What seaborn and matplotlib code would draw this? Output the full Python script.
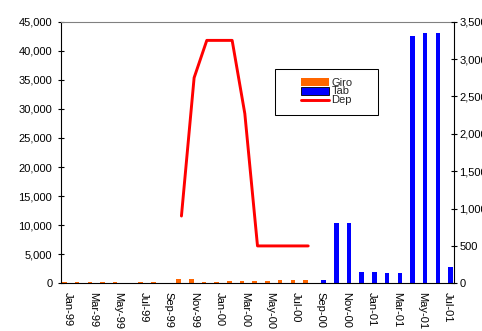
import numpy as np
import pandas as pd
import matplotlib
matplotlib.use("Agg")
import matplotlib.pyplot as plt
import seaborn as sns
from matplotlib.patches import Patch, Rectangle
from matplotlib.lines import Line2D
from matplotlib.ticker import FuncFormatter, MultipleLocator

nan = np.nan

# ---------------- data ----------------
months = ["Jan-99", "Feb-99", "Mar-99", "Apr-99", "May-99", "Jun-99", "Jul-99",
          "Aug-99", "Sep-99", "Oct-99", "Nov-99", "Dec-99",
          "Jan-00", "Feb-00", "Mar-00", "Apr-00", "May-00", "Jun-00", "Jul-00",
          "Aug-00", "Sep-00", "Oct-00", "Nov-00", "Dec-00",
          "Jan-01", "Feb-01", "Mar-01", "Apr-01", "May-01", "Jun-01", "Jul-01"]

giro = [300, 300, 250, 250, 250, nan, 250, 250, nan, 750, 800, 250,
        250, 450, 450, 450, 450, 550, 550, 550,
        nan, nan, nan, nan, nan, nan, nan, nan, nan, nan, nan]

tab = [nan] * 20 + [600, 10400, 10400, 2000, 2000, 1800, 1800,
                    42500, 43000, 43000, 2750]

dep = [nan] * 9 + [900, 2750, 3250, 3250, 3250, 2270, 500, 500, 500, 500, 500] + [nan] * 11

series_names = ["Giro", "Tab"]
colors = {"Giro": "#FF6600", "Tab": "#0000FF", "Dep": "#FF0000"}

bars = pd.DataFrame({
    "month": months * 2,
    "series": ["Giro"] * len(months) + ["Tab"] * len(months),
    "value": giro + tab,
}).dropna()

line_df = pd.DataFrame({"pos": np.arange(len(months)), "Dep": dep}).dropna()

# ---------------- style ----------------
sns.set_style("white")
plt.rcParams["font.family"] = ["Liberation Sans", "DejaVu Sans"]
plt.rcParams["font.size"] = 8

fig = plt.figure(figsize=(4.82, 3.31), dpi=100)
L, R, B, T = 61 / 482, 454 / 482, 1 - 283.3 / 331, 1 - 21.7 / 331
ax = fig.add_axes([L, B, R - L, T - B])

sns.barplot(data=bars, x="month", y="value", hue="series", order=months,
            hue_order=series_names, palette=colors, width=0.88, gap=0.2,
            dodge=True, saturation=1, linewidth=0, errorbar=None,
            legend=False, ax=ax)

for c in ax.containers:
    if c.get_label() == "Tab":
        for b in c:
            b.set_edgecolor("black")
            b.set_linewidth(0.6)

ax2 = ax.twinx()
sns.lineplot(data=line_df, x="pos", y="Dep", ax=ax2, color=colors["Dep"],
             linewidth=2.1, estimator=None, legend=False)

# ---------------- axes ----------------
ax.set_xlim(-0.5, len(months) - 0.5)
ax.set_ylim(0, 45000)
ax2.set_ylim(0, 3500)
ax.set_xlabel("")
ax.set_ylabel("")
ax2.set_xlabel("")
ax2.set_ylabel("")

fmt = FuncFormatter(lambda v, p: f"{v:,.0f}")
ax.yaxis.set_major_locator(MultipleLocator(5000))
ax.yaxis.set_major_formatter(fmt)
ax2.yaxis.set_major_locator(MultipleLocator(500))
ax2.yaxis.set_major_formatter(fmt)

ax.set_xticks(range(0, len(months), 2))
ax.set_xticklabels(months[::2], rotation=-90, ha="center", va="top")
ax.set_xticks(np.arange(-0.5, len(months), 1), minor=True)
ax.tick_params(axis="x", which="major", length=0, pad=6, labelsize=8, colors="black")
ax.tick_params(axis="x", which="minor", direction="inout", length=6, width=0.8, color="black")
ax.tick_params(axis="y", which="major", direction="inout", length=4.5, width=0.8,
               pad=4, labelsize=8, color="black", labelcolor="black")
ax2.tick_params(axis="y", which="major", direction="inout", length=4.5, width=0.8,
                pad=1.7, labelsize=8, color="black", labelcolor="black")

for s in ["left", "bottom"]:
    ax.spines[s].set_color("black")
    ax.spines[s].set_linewidth(0.8)
ax.spines["top"].set_color("#808080")
ax.spines["top"].set_linewidth(0.8)
ax.spines["right"].set_visible(False)
for s in ["left", "top", "bottom"]:
    ax2.spines[s].set_visible(False)
ax2.spines["right"].set_color("black")
ax2.spines["right"].set_linewidth(0.8)
ax.grid(False)
ax2.grid(False)

# ---------------- legend ----------------
handles = [Patch(facecolor=colors["Giro"], edgecolor="none"),
           Patch(facecolor=colors["Tab"], edgecolor="black", linewidth=0.6),
           Line2D([], [], color=colors["Dep"], linewidth=2.1)]
labels = ["Giro", "Tab", "Dep"]
frame = Rectangle((275 / 482, 1 - 115 / 331), 103.3 / 482, 45.7 / 331,
                  transform=fig.transFigure, facecolor="white", edgecolor="black",
                  linewidth=0.75, zorder=4, clip_on=False)
ax2.add_artist(frame)
leg = ax2.legend(handles, labels, loc="center left",
                 bbox_to_anchor=(301 / 482, 1 - 91.5 / 331),
                 bbox_transform=fig.transFigure, frameon=False, borderpad=0,
                 borderaxespad=0, handlelength=2.55, handleheight=0.7,
                 handletextpad=0.2, labelspacing=-0.1, fontsize=8)
leg.set_zorder(5)

fig.savefig("out.png", dpi=100)
